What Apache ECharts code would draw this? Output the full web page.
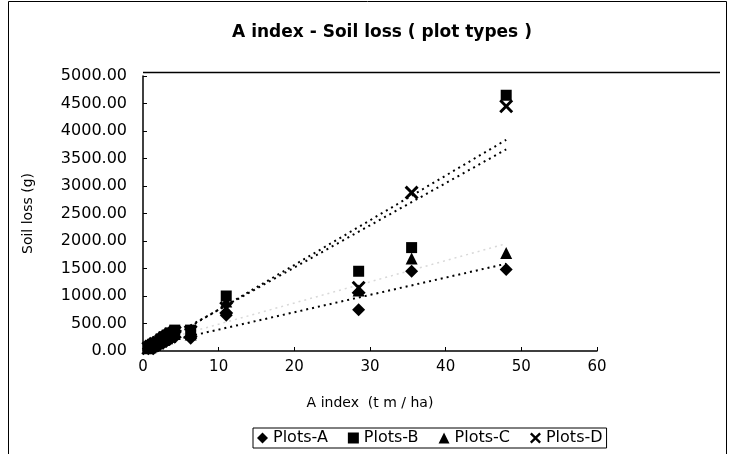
<!DOCTYPE html>
<html>
<head>
<meta charset="utf-8">
<script src="https://cdn.jsdelivr.net/npm/echarts@6/dist/echarts.min.js"></script>
<style>
  html, body { margin: 0; padding: 0; background: #fff; }
  #main { width: 733px; height: 454px; }
</style>
</head>
<body>
<div id="main"></div>
<script>
// A index (t m / ha) - shared by the four plot types
var aIndex = [0.7, 1.0, 1.3, 1.6, 2.0, 2.4, 2.8, 3.2, 3.6, 4.2, 6.3, 11.0, 28.5, 35.5, 48.0];
// soil loss (g)
var plotsA = [40, 60, 80, 90, 110, 140, 170, 190, 220, 250, 230, 650, 750, 1450, 1480];
var plotsB = [60, 90, 120, 140, 170, 220, 260, 290, 330, 380, 380, 1000, 1450, 1880, 4650];
var plotsC = [50, 70, 90, 110, 140, 170, 200, 230, 260, 310, 300, 900, 1100, 1680, 1780];
var plotsD = [50, 80, 100, 130, 150, 190, 230, 260, 300, 340, 350, 780, 1150, 2880, 4450];
var seriesNames = ['Plots-A', 'Plots-B', 'Plots-C', 'Plots-D'];

var myChart = echarts.init(document.getElementById('main'));

// x,y 쌍으로 묶기
function pairs(xs, ys) {
    return xs.map(function (x, i) { return [x, ys[i]]; });
}

// 선형 추세선 (최소제곱)
function trend(xs, ys) {
    var n = xs.length, mx = 0, my = 0;
    for (var i = 0; i < n; i++) { mx += xs[i]; my += ys[i]; }
    mx /= n; my /= n;
    var sxy = 0, sxx = 0;
    for (var j = 0; j < n; j++) {
        sxy += (xs[j] - mx) * (ys[j] - my);
        sxx += (xs[j] - mx) * (xs[j] - mx);
    }
    var b = sxy / sxx, a = my - b * mx;
    var x0 = Math.min.apply(null, xs), x1 = Math.max.apply(null, xs);
    return [[x0, a + b * x0], [x1, a + b * x1]];
}

var xCross = 'path://M0,1.5L1.5,0L5,3.5L8.5,0L10,1.5L6.5,5L10,8.5L8.5,10L5,6.5L1.5,10L0,8.5L3.5,5Z';
var font = 'DejaVu Sans';

function trendSeries(ys, color, w) {
    return {
        type: 'line',
        data: trend(aIndex, ys),
        symbol: 'none',
        silent: true,
        z: 1,
        lineStyle: { color: color, width: w, type: [2, 4] }
    };
}

function scatter(name, symbol, size, ys) {
    return {
        name: name, type: 'scatter', symbol: symbol, symbolSize: size,
        itemStyle: { color: '#000', opacity: 1 },
        data: pairs(aIndex, ys), z: 3
    };
}

var option = {
    animation: false,
    title: {
        text: 'A index - Soil loss ( plot types )',
        left: 377,
        textAlign: 'center',
        top: 19,
        textStyle: { fontFamily: font, fontSize: 17, fontWeight: 'bold', color: '#000' }
    },
    legend: {
        data: seriesNames,
        bottom: 6,
        left: 253,
        padding: [2, 4],
        itemGap: 20,
        itemWidth: 11,
        itemHeight: 11,
        borderColor: '#000',
        borderWidth: 1,
        textStyle: { fontFamily: font, fontSize: 16, color: '#000' }
    },
    grid: {
        left: 143,
        right: 136,
        top: 76,
        bottom: 103
    },
    xAxis: {
        type: 'value',
        min: 0,
        max: 60,
        interval: 10,
        name: 'A index  (t m / ha)',
        nameLocation: 'middle',
        nameGap: 45,
        nameTextStyle: { fontFamily: font, fontSize: 14, color: '#000' },
        axisLine: { lineStyle: { color: '#000', width: 1.5 } },
        axisTick: { inside: true, length: 4, lineStyle: { color: '#000' } },
        axisLabel: { fontFamily: font, fontSize: 15, color: '#000', margin: 9 },
        splitLine: { show: false }
    },
    yAxis: {
        type: 'value',
        min: 0,
        max: 5000,
        interval: 500,
        name: 'Soil loss (g)',
        nameLocation: 'middle',
        nameGap: 108,
        nameTextStyle: { fontFamily: font, fontSize: 14, color: '#000' },
        axisLine: { lineStyle: { color: '#000', width: 1.5 } },
        axisTick: { inside: true, length: 4, lineStyle: { color: '#000' } },
        axisLabel: {
            fontFamily: font, fontSize: 16, color: '#000', margin: 16,
            formatter: function (v) { return v.toFixed(2); }
        },
        splitLine: { show: false }
    },
    series: [
        trendSeries(plotsA, '#000', 2),
        trendSeries(plotsB, '#000', 2),
        trendSeries(plotsC, '#d8d8d8', 1.5),
        trendSeries(plotsD, '#000', 2),
        scatter('Plots-A', 'diamond', 13, plotsA),
        scatter('Plots-B', 'rect', 11, plotsB),
        scatter('Plots-C', 'triangle', 12, plotsC),
        scatter('Plots-D', xCross, 14, plotsD)
    ],
    graphic: [{
        type: 'rect',
        shape: { x: 8.5, y: 1.5, width: 718, height: 470 },
        style: { fill: null, stroke: '#000', lineWidth: 1 },
        silent: true,
        z: -10
    }, {
        // 플롯 영역 윗선
        type: 'line',
        shape: { x1: 143, y1: 72.5, x2: 720, y2: 72.5 },
        style: { stroke: '#000', lineWidth: 1.5 },
        silent: true
    }]
};

myChart.setOption(option);
</script>
</body>
</html>
